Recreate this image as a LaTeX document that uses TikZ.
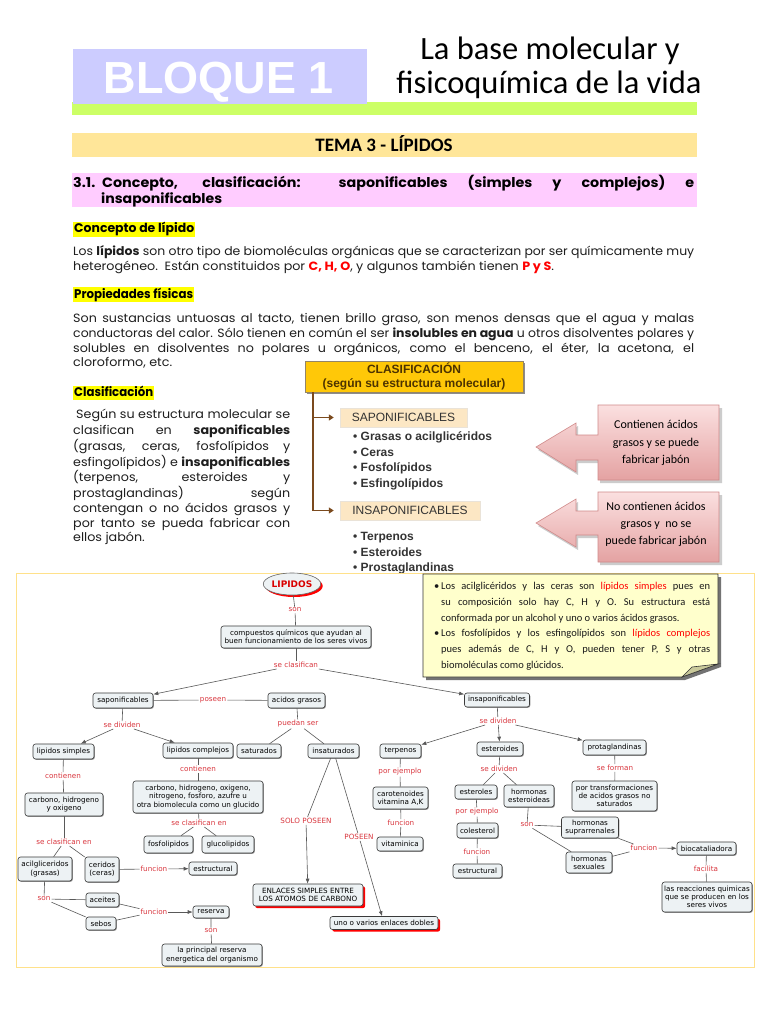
\documentclass[tikz,border=0pt]{standalone}
\usepackage{graphicx}
\usepackage{fontspec}
\setmainfont{Poppins}[FakeStretch=1.06]
\newfontfamily\calib{Carlito}
\newfontfamily\arialf{Liberation Sans}
\newfontfamily\verd{DejaVu Sans}
\usetikzlibrary{shapes.geometric,shadows,arrows.meta}
\definecolor{lav}{HTML}{CCCCFF}
\definecolor{lime}{HTML}{CCFF66}
\definecolor{temabg}{HTML}{FFE699}
\definecolor{pinkbg}{HTML}{FFCCFF}
\definecolor{hl}{HTML}{FFFF00}
\definecolor{txt}{HTML}{1E1E1E}
\definecolor{gold}{HTML}{FFC808}
\definecolor{goldtx}{HTML}{4D3300}
\definecolor{brownln}{HTML}{7B4A1E}
\definecolor{peach}{HTML}{FCE7C4}
\definecolor{pinkA}{HTML}{FBE0E0}
\definecolor{pinkB}{HTML}{E4A2A2}
\definecolor{pinkE}{HTML}{D08A8A}
\definecolor{frame}{HTML}{FFE18A}
\definecolor{nodefill}{HTML}{EDF2F4}
\definecolor{nodeln}{HTML}{3A3A3A}
\definecolor{lblred}{HTML}{D9363E}
\definecolor{notebg}{HTML}{FFFFCC}
\definecolor{notefold}{HTML}{C9C99A}
\newsavebox\jbox
\newcommand\jst[2]{\sbox\jbox{#2}\ifdim\wd\jbox>#1\relax\resizebox{#1}{\height}{#2}\else\makebox[#1][s]{#2}\fi}
\newcommand\hfit[2]{\resizebox{#1}{\height}{#2}}
\newcommand\redb[1]{\textcolor{red}{\textbf{#1}}}
\newcommand\bodyf{\fontsize{12}{14}\selectfont}
\begin{document}
\begin{tikzpicture}[x=1pt,y=-1pt,
  bl/.style={anchor=base west, inner sep=0pt, font=\bodyf, text=txt},
  hdf/.style={anchor=base west, inner sep=0pt, font=\bfseries\fontsize{12.5}{14}\selectfont, text=black},
  cbase/.style={draw=nodeln, fill=nodefill, rounded corners=2.5pt, line width=0.6pt, align=center, inner sep=1pt, font=\verd\fontsize{7.2}{8.2}\selectfont, text=black},
  cbox/.style={cbase, drop shadow={shadow xshift=0.8pt, shadow yshift=-0.8pt, fill=black!55, opacity=0.8}},
  rbox/.style={cbase, drop shadow={shadow xshift=2.2pt, shadow yshift=-2.2pt, fill=red, opacity=1}},
  lbl/.style={text=lblred, font=\verd\fontsize{7.2}{8}\selectfont, inner sep=1pt},
  ln/.style={draw=black!65, line width=0.6pt},
  arr/.style={ln, -{Latex[length=5pt,width=4pt]}},
  bul/.style={anchor=base west, inner sep=0pt, font=\arialf\bfseries\fontsize{12}{14}\selectfont, text=black!80},
  notel/.style={anchor=base west, inner sep=0pt, font=\calib\fontsize{10.5}{12}\selectfont, text=black!90}]
\useasboundingbox (0,0) rectangle (768,1024);
\fill[white] (0,0) rectangle (768,1024);

% ---------- header ----------
\fill[lime] (72,102) rectangle (697,115);
\fill[lav] (73,49) rectangle (367,104);
\node[anchor=base, inner sep=0pt, text=white, font=\arialf\bfseries\fontsize{45}{50}\selectfont] (bq) at (219,94) {BLOQUE 1};
\node[anchor=base, inner sep=0pt, font=\calib\fontsize{32.5}{36}\selectfont] (ti1) at (550,60) {La base molecular y};
\node[anchor=base, inner sep=0pt, font=\calib\fontsize{32.5}{36}\selectfont] (ti2) at (549,94) {fisicoquímica de la vida};
\fill[temabg] (72,133) rectangle (697,157);
\node[anchor=base, inner sep=0pt, font=\calib\bfseries\fontsize{19}{20}\selectfont] (tema) at (384,151.5) {TEMA 3 - LÍPIDOS};

% ---------- section heading ----------
\fill[pinkbg] (72,173) rectangle (697,207);
\node[hdf, font=\bfseries\fontsize{13.5}{15}\selectfont] (h0) at (73,187.5) {3.1.};
\node[hdf, font=\bfseries\fontsize{13.5}{15}\selectfont] (h1) at (102,187.5) {\jst{592pt}{Concepto, clasificación: saponificables (simples y complejos) e}};
\node[hdf, font=\bfseries\fontsize{13.5}{15}\selectfont] (h2) at (101,203.5) {\hfit{121pt}{insaponificables}};

\fill[hl] (73,222) rectangle (195,237);
\node[hdf] (s1) at (74,233) {\hfit{120pt}{Concepto de lípido}};
\node[bl] (p11) at (73,255.5) {\jst{621pt}{Los \textbf{lípidos} son otro tipo de biomoléculas orgánicas que se caracterizan por ser químicamente muy}};
\node[bl] (p12) at (73,270.5) {heterogéneo.\ \ Están constituidos por \redb{C, H, O}, y algunos también tienen \redb{P y S}.};

\fill[hl] (73,287) rectangle (194,302);
\node[hdf] (s2) at (74,298) {\hfit{119pt}{Propiedades físicas}};
\node[bl] (p21) at (73,322.5) {\jst{621pt}{Son sustancias untuosas al tacto, tienen brillo graso, son menos densas que el agua y malas}};
\node[bl] (p22) at (73,337.5) {\jst{621pt}{conductoras del calor. Sólo tienen en común el ser \textbf{insolubles en agua} u otros disolventes polares y}};
\node[bl] (p23) at (73,352) {\jst{621pt}{solubles en disolventes no polares u orgánicos, como el benceno, el éter, la acetona, el}};
\node[bl] (p24) at (73,366.5) {cloroformo, etc.};

\fill[hl] (73,386) rectangle (154,400);
\node[hdf] (s3) at (74,396.5) {\hfit{79pt}{Clasificación}};
\node[bl] (c1) at (76,418.5) {\jst{214pt}{Según su estructura molecular se}};
\node[bl] (c2) at (73,434.5) {\jst{217pt}{clasifican en \textbf{saponificables}}};
\node[bl] (c3) at (73,450.5) {\jst{217pt}{(grasas, ceras, fosfolípidos y}};
\node[bl] (c4) at (73,466) {\jst{217pt}{esfingolípidos) e \textbf{insaponificables}}};
\node[bl] (c5) at (73,481.5) {\jst{217pt}{(terpenos, esteroides y}};
\node[bl] (c6) at (73,497) {\jst{217pt}{prostaglandinas) según}};
\node[bl] (c7) at (73,512.5) {\jst{217pt}{contengan o no ácidos grasos y}};
\node[bl] (c8) at (73,527.5) {\jst{217pt}{por tanto se pueda fabricar con}};
\node[bl] (c9) at (73,541) {ellos jabón.};

% ---------- classification graphic ----------
\fill[black!45] (307,363) rectangle (525,394);
\node[draw=goldtx!60, fill=gold, minimum width=218pt, minimum height=31pt, inner sep=0pt, align=center, text=goldtx, font=\arialf\bfseries\fontsize{12}{14}\selectfont] (clas) at (414,376.5) {CLASIFICACIÓN\\(según su estructura molecular)};
\node[fill=peach, draw=peach!80!black!40, minimum width=127pt, minimum height=19pt, inner sep=0pt, font=\arialf\fontsize{12}{14}\selectfont, text=black!80] (sap) at (403.5,417.5) {SAPONIFICABLES};
\node[fill=peach, draw=peach!80!black!40, minimum width=140pt, minimum height=19pt, inner sep=0pt, font=\arialf\fontsize{12}{14}\selectfont, text=black!80] (insp) at (410,510.5) {INSAPONIFICABLES};
\coordinate (bt) at (313,392);
\draw[brownln, line width=1.3pt, shorten >=6pt, -{Triangle[length=5pt,width=6pt]}] (bt) |- (sap.west);
\draw[brownln, line width=1.3pt, shorten >=6pt, -{Triangle[length=5pt,width=6pt]}] (bt) |- (insp.west);
\node[bul] (b1) at (353,440.5) {• Grasas o acilglicéridos};
\node[bul] (b2) at (353,456) {• Ceras};
\node[bul] (b3) at (353,471.5) {• Fosfolípidos};
\node[bul] (b4) at (353,487) {• Esfingolípidos};
\node[bul] (b5) at (353,540.5) {• Terpenos};
\node[bul] (b6) at (353,556) {• Esteroides};
\node[bul] (b7) at (353,571.5) {• Prostaglandinas};

% pink arrows
\fill[black!20] (600,408) -- (722,408) -- (722,483) -- (600,483) -- (600,463) -- (578,463) -- (578,475) -- (538,450) -- (578,426) -- (578,438) -- (600,438) -- cycle;
\shadedraw[top color=pinkA, bottom color=pinkB, draw=pinkE, line width=0.6pt] (598,405) -- (719,405) -- (719,480) -- (598,480) -- (598,460) -- (576,460) -- (576,472) -- (536,447) -- (576,423) -- (576,435) -- (598,435) -- cycle;
\node[align=center, inner sep=0pt, font=\calib\fontsize{12}{17.5}\selectfont] (a1) at (656,443) {Contienen ácidos\\grasos y se puede\\fabricar jabón};
\fill[black!20] (600,495) -- (722,495) -- (722,565) -- (600,565) -- (600,538) -- (578,538) -- (578,550) -- (538,526) -- (578,502) -- (578,514) -- (600,514) -- cycle;
\shadedraw[top color=pinkA, bottom color=pinkB, draw=pinkE, line width=0.6pt] (598,492) -- (719,492) -- (719,562) -- (598,562) -- (598,535) -- (576,535) -- (576,547) -- (536,523) -- (576,499) -- (576,511) -- (598,511) -- cycle;
\node[align=center, inner sep=0pt, font=\calib\fontsize{12}{17}\selectfont] (a2) at (656,524) {No contienen ácidos\\grasos y~ no se\\puede fabricar jabón};

% ---------- concept map ----------
\draw[frame, line width=1pt, fill=white] (16,573) rectangle (754,967);

% note callout
\fill[black!55] (426,577) -- (721,577) -- (721,667) -- (685,680) -- (426,680) -- cycle;
\filldraw[fill=notebg, draw=black!80, line width=0.6pt] (423,574) -- (718,574) -- (718,664) -- (682,677) -- (423,677) -- cycle;
\filldraw[fill=notefold, draw=black!80, line width=0.6pt] (718,664) -- (692,667) -- (682,677) -- cycle;
\node[notel] (nb1) at (434,589.5) {•};
\node[notel] (n1) at (441,589.5) {\jst{269pt}{Los acilglicéridos y las ceras son \textcolor{red}{lípidos simples} pues en}};
\node[notel] (n2) at (441,605.3) {\jst{269pt}{su composición solo hay C, H y O. Su estructura está}};
\node[notel] (n3) at (441,621.1) {conformada por un alcohol y uno o varios ácidos grasos.};
\node[notel] (nb2) at (434,636.9) {•};
\node[notel] (n4) at (441,636.9) {\jst{269pt}{Los fosfolípidos y los esfingolípidos son \textcolor{red}{lípidos complejos}}};
\node[notel] (n5) at (441,652.7) {\jst{269pt}{pues además de C, H y O, pueden tener P, S y otras}};
\node[notel] (n6) at (441,668.5) {biomoléculas como glúcidos.};

% nodes
\node[ellipse, draw=black!60, fill=nodefill, line width=0.6pt, minimum width=47pt, minimum height=22pt, inner sep=0pt, text=red!85!black, font=\verd\bfseries\fontsize{9}{10}\selectfont, drop shadow={shadow xshift=2pt, shadow yshift=-2pt, fill=red, opacity=1}] (lip) at (292,584) {LIPIDOS};
\node[cbox, minimum width=150pt, minimum height=22pt] (comp) at (296,637) {compuestos químicos que ayudan al\\buen funcionamiento de los seres vivos};
\node[cbox, minimum width=60pt, minimum height=15pt] (sapo) at (123,700.5) {saponificables};
\node[cbox, minimum width=57pt, minimum height=15pt] (acid) at (296.5,700.5) {acidos grasos};
\node[cbox, minimum width=65pt, minimum height=14pt] (insap) at (497,700) {insaponificables};
\node[cbox, minimum width=61pt, minimum height=15pt] (lsimp) at (63.5,751.5) {lipidos simples};
\node[cbox, minimum width=70pt, minimum height=15pt] (lcomp) at (198,750.5) {lipidos complejos};
\node[cbox, minimum width=44pt, minimum height=14pt] (satu) at (259,751) {saturados};
\node[cbox, minimum width=51pt, minimum height=14pt] (insat) at (333.5,751) {insaturados};
\node[cbox, minimum width=41pt, minimum height=14pt] (terp) at (400.5,751) {terpenos};
\node[cbox, minimum width=46pt, minimum height=14pt] (este) at (500,749) {esteroides};
\node[cbox, minimum width=63pt, minimum height=15pt] (prot) at (614.5,747.5) {protaglandinas};
\node[cbox, minimum width=78pt, minimum height=23pt] (chox) at (64,804.5) {carbono, hidrogeno\\y oxigeno};
\node[cbox, minimum width=130pt, minimum height=32pt] (chonps) at (198,797) {carbono, hidrogeno, oxigeno,\\nitrogeno, fosforo, azufre u\\otra biomolecula como un glucido};
\node[cbox, minimum width=55pt, minimum height=22pt] (carot) at (400.5,798) {carotenoides\\vitamina A,K};
\node[cbox, minimum width=42pt, minimum height=14pt] (esterol) at (476,792) {esteroles};
\node[cbox, minimum width=50pt, minimum height=22pt] (horm) at (529,796) {hormonas\\esteroideas};
\node[cbox, minimum width=85pt, minimum height=30pt] (ptrans) at (614.5,796) {por transformaciones\\de acidos grasos no\\saturados};
\node[cbox, minimum width=57pt, minimum height=21pt] (supra) at (590,827.5) {hormonas\\suprarrenales};
\node[cbox, minimum width=41pt, minimum height=15pt] (coles) at (477.5,830.5) {colesterol};
\node[cbox, minimum width=49pt, minimum height=17pt] (fosfo) at (168.5,844.5) {fosfolipidos};
\node[cbox, minimum width=52pt, minimum height=17pt] (gluco) at (228,844.5) {glucolipidos};
\node[cbox, minimum width=46pt, minimum height=14pt] (vitam) at (400,844) {vitaminica};
\node[cbox, minimum width=59pt, minimum height=13pt] (bioc) at (706.5,848.5) {biocataliadora};
\node[cbox, minimum width=46pt, minimum height=21pt] (hsex) at (589,862.5) {hormonas\\sexuales};
\node[cbox, minimum width=54pt, minimum height=24pt] (acil) at (45,869) {acilgliceridos\\(grasas)};
\node[cbox, minimum width=34pt, minimum height=25pt] (cerid) at (102,869.5) {ceridos\\(ceras)};
\node[cbox, minimum width=48pt, minimum height=13pt] (estr1) at (213,868.5) {estructural};
\node[cbox, minimum width=49pt, minimum height=14pt] (estr2) at (477.5,871) {estructural};
\node[cbox, minimum width=90pt, minimum height=30pt] (las) at (707,897) {las reacciones quimicas\\que se producen en los\\seres vivos};
\node[cbox, minimum width=33pt, minimum height=14pt] (aceit) at (102.5,900) {aceites};
\node[cbox, minimum width=36pt, minimum height=12pt] (reser) at (211,912) {reserva};
\node[cbox, minimum width=30pt, minimum height=13pt] (sebos) at (101,923.5) {sebos};
\node[cbox, minimum width=100pt, minimum height=22pt] (princ) at (212,955) {la principal reserva\\energetica del organismo};
\node[rbox, minimum width=110pt, minimum height=22pt] (enl) at (308,895) {ENLACES SIMPLES ENTRE\\LOS ATOMOS DE CARBONO};
\node[rbox, minimum width=108pt, minimum height=13pt] (unov) at (384,923) {uno o varios enlaces dobles};

% labels
\node[lbl] (lson1) at (295,610) {son};
\node[lbl] (lclas) at (296,665) {se clasifican};
\node[lbl] (lpos) at (213,700) {poseen};
\node[lbl] (ldiv1) at (122,725) {se dividen};
\node[lbl] (lpue) at (298,724) {puedan ser};
\node[lbl] (ldiv2) at (498,721) {se dividen};
\node[lbl] (lcont1) at (63,776) {contienen};
\node[lbl] (lcont2) at (198,769) {contienen};
\node[lbl] (lpej1) at (400,772) {por ejemplo};
\node[lbl] (ldiv3) at (499,769) {se dividen};
\node[lbl] (lform) at (615,768) {se forman};
\node[lbl] (lpej2) at (477,812) {por ejemplo};
\node[lbl] (lsolo) at (306,821) {SOLO POSEEN};
\node[lbl] (lpos2) at (359,837) {POSEEN};
\node[lbl] (lclas2) at (199,823) {se clasifican en};
\node[lbl] (lfun1) at (401,823) {funcion};
\node[lbl] (lson2) at (527,825) {son};
\node[lbl] (lclas3) at (64,842) {se clasifican en};
\node[lbl] (lfun4) at (644,848) {funcion};
\node[lbl] (lfun2) at (477,852) {funcion};
\node[lbl] (lfac) at (706,869) {facilita};
\node[lbl] (lfun3) at (154,869) {funcion};
\node[lbl] (lson3) at (44,899) {son};
\node[lbl] (lfun5) at (154,912) {funcion};
\node[lbl] (lson4) at (211,931) {son};

% connectors
\draw[ln] (lip) -- (lson1) -- (comp);
\draw[ln] (comp) -- (lclas);
\draw[arr] (lclas) -- (sapo);
\draw[arr] (lclas) -- (insap);
\draw[ln] (sapo) -- (lpos) -- (acid);
\draw[ln] (sapo) -- (ldiv1);
\draw[arr] (ldiv1) -- (lsimp);
\draw[arr] (ldiv1) -- (lcomp);
\draw[ln] (acid) -- (lpue);
\draw[ln] (lpue) -- (satu);
\draw[ln] (lpue) -- (insat);
\draw[ln] (insap) -- (ldiv2);
\draw[arr] (ldiv2) -- (terp);
\draw[arr] (ldiv2) -- (este);
\draw[arr] (ldiv2) -- (prot);
\draw[ln] (lsimp) -- (lcont1) -- (chox);
\draw[ln] (lcomp) -- (lcont2) -- (chonps);
\draw[ln] (chonps) -- (lclas2);
\draw[ln] (lclas2) -- (fosfo);
\draw[ln] (lclas2) -- (gluco);
\draw[ln] (chox) -- (lclas3);
\draw[ln] (lclas3) -- (acil);
\draw[ln] (lclas3) -- (cerid);
\draw[ln] (cerid) -- (lfun3);
\draw[arr] (lfun3) -- (estr1);
\draw[ln] (acil) -- (lson3);
\draw[ln] (lson3) -- (aceit);
\draw[ln] (lson3) -- (sebos);
\draw[ln] (aceit) -- (lfun5);
\draw[ln] (sebos) -- (lfun5);
\draw[arr] (lfun5) -- (reser);
\draw[ln] (reser) -- (lson4) -- (princ);
\draw[ln] (insat) -- (lsolo);
\draw[arr] (lsolo) -- (enl);
\draw[ln] (insat) -- (lpos2);
\draw[arr] (lpos2) -- (unov);
\draw[ln] (terp) -- (lpej1) -- (carot) -- (lfun1) -- (vitam);
\draw[ln] (este) -- (ldiv3);
\draw[ln] (ldiv3) -- (esterol);
\draw[ln] (ldiv3) -- (horm);
\draw[ln] (esterol) -- (lpej2) -- (coles) -- (lfun2) -- (estr2);
\draw[ln] (prot) -- (lform) -- (ptrans);
\draw[ln] (horm) -- (lson2);
\draw[ln] (lson2) -- (supra);
\draw[ln] (lson2) -- (hsex);
\draw[ln] (supra) -- (lfun4);
\draw[ln] (hsex) -- (lfun4);
\draw[arr] (lfun4) -- (bioc);
\draw[ln] (bioc) -- (lfac) -- (las);
\end{tikzpicture}
\end{document}
